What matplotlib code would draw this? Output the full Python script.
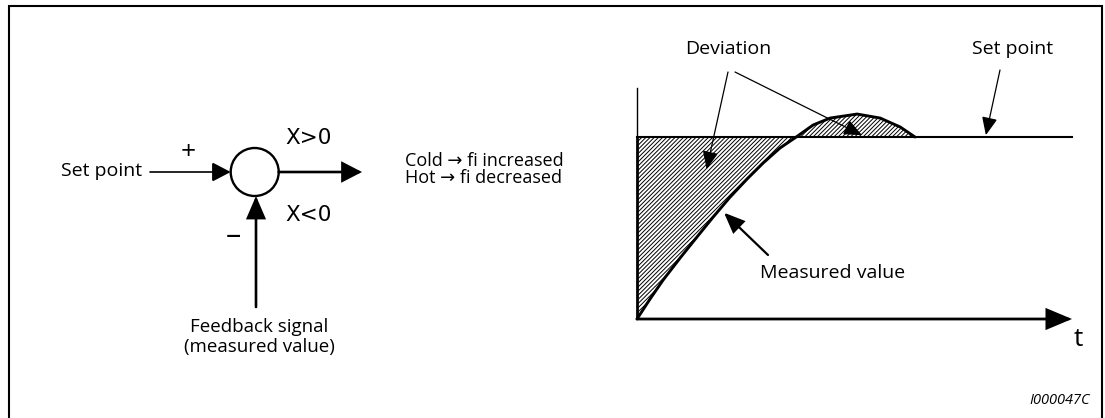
import matplotlib
matplotlib.use("Agg")
import matplotlib.pyplot as plt
from matplotlib.patches import Circle

plt.rcParams['hatch.linewidth'] = 0.7
FONT = ['Open Sans', 'DejaVu Sans']
plt.rcParams['font.family'] = FONT

# ---- data (right chart): time axis and measured value, set point = 1 ----
t_meas = [0.0, 0.30, 0.60, 0.99, 1.38, 1.75, 2.14, 2.53, 2.90, 3.29, 3.66,
          4.05, 4.44, 5.06, 5.59, 6.05, 6.39]
v_meas = [0.0, 0.110, 0.214, 0.335, 0.451, 0.560, 0.670, 0.769, 0.857, 0.940,
          1.000, 1.066, 1.104, 1.126, 1.104, 1.055, 1.000]
t_set = [0.0, 10.0]
v_set = [1.0, 1.0]
t_max = 10.0

# ---- labels ----
lbl_setpoint = "Set point"
lbl_plus = "+"
lbl_minus = "–"
lbl_xpos = "X>0"
lbl_xneg = "X<0"
lbl_feedback = ["Feedback signal", "(measured value)"]
lbl_rules = ["Cold \u2192 fi increased", "Hot \u2192 fi decreased"]
lbl_deviation = "Deviation"
lbl_measured = "Measured value"
lbl_t = "t"
lbl_code = "I000047C"

W, H = 1105, 418
fig = plt.figure(figsize=(W / 100, H / 100), dpi=100)

# chart axes (pixel box: x 637..1072, y 88..319; set point at y=137)
y_top = (319 - 88) / 182.0
axc = fig.add_axes([637 / W, (H - 319) / H, 435 / W, (319 - 88) / H])
axc.set_xlim(0, t_max)
axc.set_ylim(0, y_top)
axc.axis('off')

# overlay axes in pixel coordinates
ax = fig.add_axes([0, 0, 1, 1])
ax.set_xlim(0, W)
ax.set_ylim(H, 0)
ax.axis('off')
ax.patch.set_visible(False)

# frame
ax.plot([8.5, 8.5, 1102, 1102], [H + 2, 6, 6, H + 2], color='k', lw=1.5,
        clip_on=False, solid_joinstyle='miter')

def arrow(a, xy, xytext, lw, hl, hw, xycoords='data', textcoords='data'):
    a.annotate('', xy=xy, xytext=xytext, xycoords=xycoords, textcoords=textcoords,
               arrowprops=dict(arrowstyle=f'-|>,head_length={hl},head_width={hw}',
                               lw=lw, color='k', shrinkA=0, shrinkB=0,
                               mutation_scale=10, joinstyle='miter'),
               annotation_clip=False)

# ---- block diagram ----
cx, cy, r = 254.7, 172, 24
ax.add_patch(Circle((cx, cy), r, fill=False, lw=1.7, ec='k'))
arrow(ax, (cx - r, cy), (150, cy), 1.2, 1.15, 0.6)
arrow(ax, (362, cy), (cx + r, cy), 1.9, 1.2, 0.62)
arrow(ax, (256, cy + r), (256, 307), 1.9, 1.35, 0.58)

ax.text(142, 171, lbl_setpoint, fontsize=14, ha='right', va='center')
ax.text(188.5, 152, lbl_plus, fontsize=19, ha='center', va='center')
ax.text(233, 236, lbl_minus, fontsize=22, ha='center', va='center')
ax.text(285, 138, lbl_xpos, fontsize=15.5, ha='left', va='center',
        family='DejaVu Sans')
ax.text(285, 215, lbl_xneg, fontsize=15.5, ha='left', va='center',
        family='DejaVu Sans')
ax.text(259, 327, lbl_feedback[0], fontsize=13.5, ha='center', va='center')
ax.text(259, 347, lbl_feedback[1], fontsize=13.5, ha='center', va='center')

ax.text(405, 161, lbl_rules[0], fontsize=13, ha='left', va='center')
ax.text(405, 178, lbl_rules[1], fontsize=13, ha='left', va='center')

# ---- right chart ----
axc.fill_between(t_meas, v_meas, 1.0, facecolor='none', edgecolor='k',
                 hatch='////////', linewidth=0)
axc.plot([0, 0], [1.0, y_top], color='k', lw=1.0, clip_on=False)
axc.plot([0, 0], [0, 1.0], color='k', lw=2.0, clip_on=False,
         solid_capstyle='butt')
axc.plot(t_set, v_set, color='k', lw=1.5, clip_on=False)
axc.plot(t_meas, v_meas, color='k', lw=2.1, clip_on=False,
         solid_capstyle='round', solid_joinstyle='round')
arrow(axc, (t_max, 0), (0, 0), 2.0, 1.55, 0.65)

ax.text(1078, 340, lbl_t, fontsize=19, ha='center', va='center')
ax.text(728, 49, lbl_deviation, fontsize=14, ha='center', va='center')
ax.text(1013, 49, lbl_setpoint, fontsize=14, ha='center', va='center')
ax.text(760, 273, lbl_measured, fontsize=14, ha='left', va='center')

# callout arrows: tips on the chart (data coords), tails in pixel coords
arrow(ax, (1.60, 0.823), (728, 72), 0.9, 1.1, 0.48, xycoords=axc.transData)
arrow(ax, (5.17, 1.01), (735, 72), 0.9, 1.1, 0.48, xycoords=axc.transData)
arrow(ax, (8.02, 1.01), (1000, 70), 0.9, 1.1, 0.48, xycoords=axc.transData)
arrow(ax, (2.0, 0.584), (768, 255), 1.6, 1.25, 0.52, xycoords=axc.transData)

ax.text(1090, 401, lbl_code, fontsize=10.5, ha='right', va='center',
        style='italic')

fig.savefig('out.png', dpi=100)
